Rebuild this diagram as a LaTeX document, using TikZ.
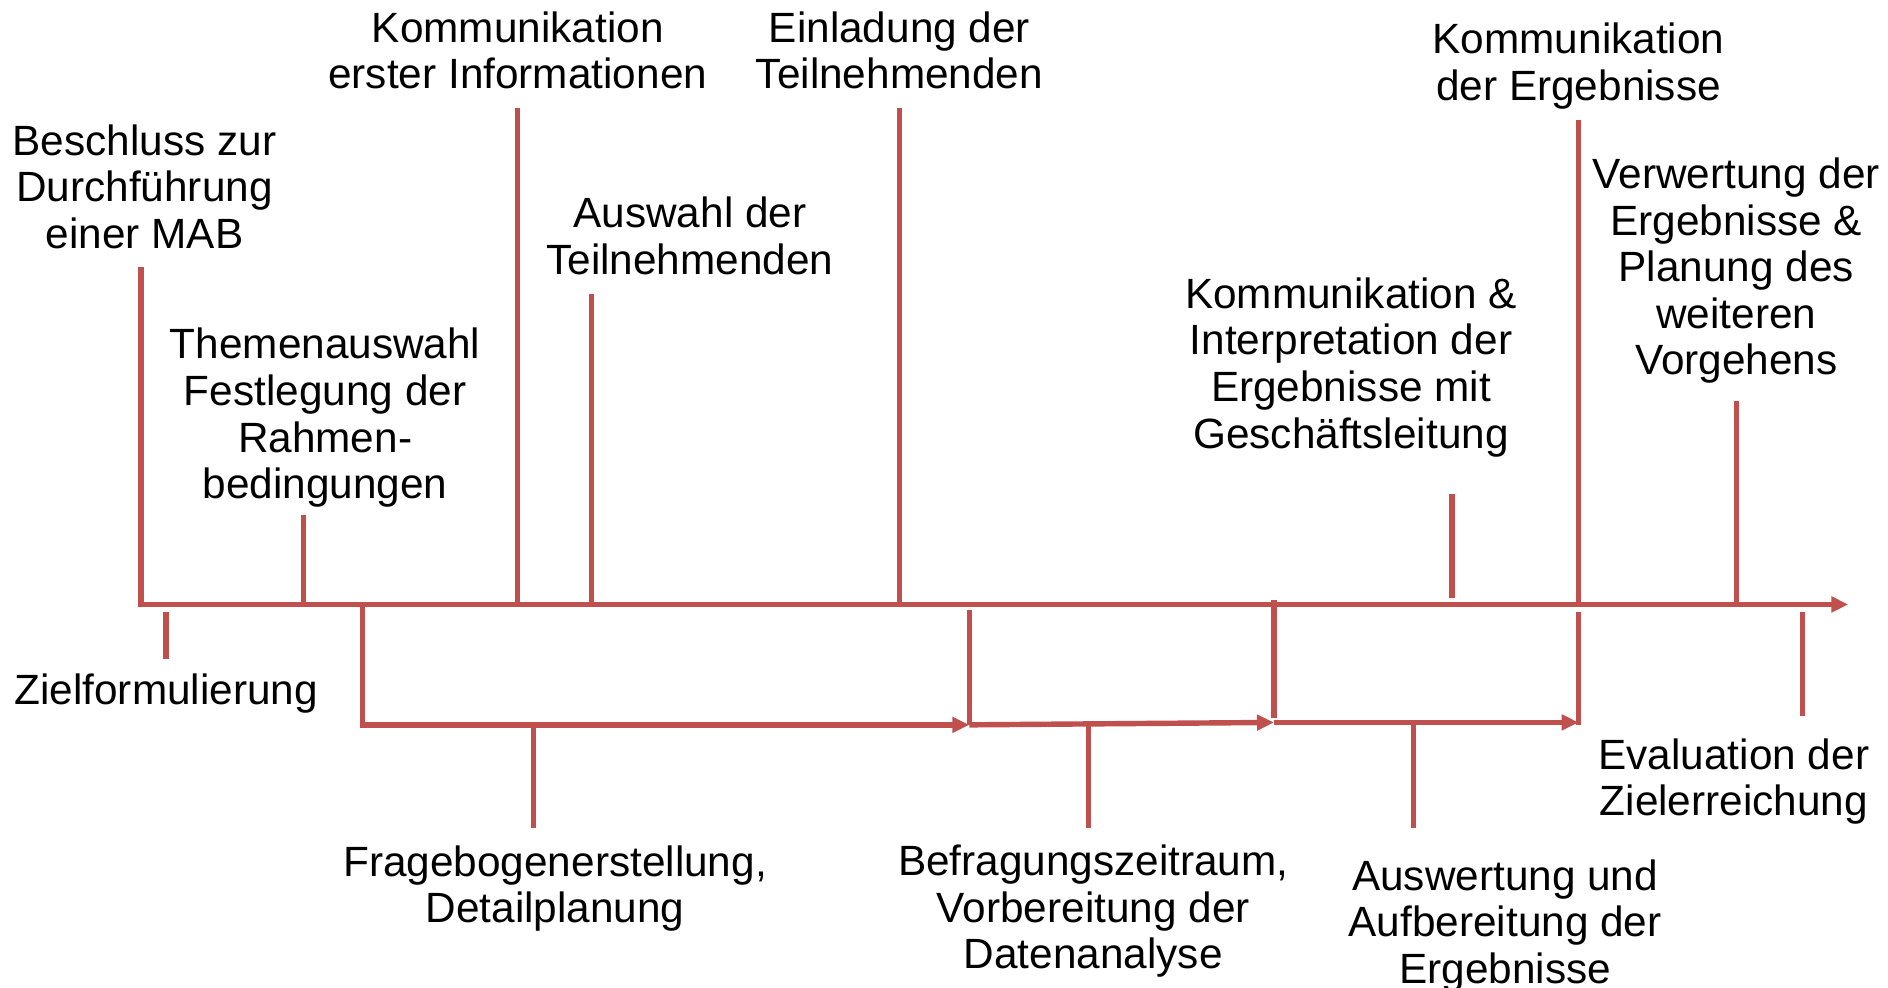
\documentclass[tikz,border=0pt]{standalone}
\usepackage{fontspec}
\setmainfont{Liberation Sans}
\usetikzlibrary{arrows.meta}

\definecolor{mabred}{RGB}{192,80,77}

\tikzset{
	tick/.style={draw=mabred,line width=3.2pt},
	flow/.style={tick,-{Triangle[length=10pt,width=9pt]}},
	lbl/.style={align=center,inner sep=0pt,font=\fontsize{25}{27.5}\selectfont}
}

\begin{document}
\begin{tikzpicture}[x=0.025cm,y=-0.025cm]
					\useasboundingbox (0,0) rectangle (1568,820);

					% Zeitachse
					\coordinate (t0) at (115,502);
					\coordinate (t1) at (1535,502);
					\draw[flow] (t0) -- (t1);

					% oben
					\node[lbl] (beschluss) at (120,155) {Beschluss zur\\Durchführung\\einer MAB};
					\node[lbl] (thema) at (270,347) {Themenauswahl\\Festlegung der\\Rahmen-\\bedingungen};
					\node[lbl] (komm1) at (430,42) {Kommunikation\\erster Informationen};
					\node[lbl] (auswahl) at (573,196) {Auswahl der\\Teilnehmenden};
					\node[lbl] (einladung) at (747,42) {Einladung der\\Teilnehmenden};
					\node[lbl] (interpret) at (1122,305) {Kommunikation \&\\Interpretation der\\Ergebnisse mit\\Geschäftsleitung};
					\node[lbl] (komm2) at (1311,55) {Kommunikation\\der Ergebnisse};
					\node[lbl] (verwertung) at (1442,225) {Verwertung der\\Ergebnisse \&\\Planung des\\weiteren\\Vorgehens};

					\draw[tick] (117,502) -- (117,222);
					\draw[tick] (252,502) -- (252,428);
					\draw[tick] (430,502) -- (430,90);
					\draw[tick] (491,502) -- (491,244);
					\draw[tick] (747,502) -- (747,90);
					\draw[tick] (1206,497) -- (1206,410);
					\draw[tick] (1311,502) -- (1311,100);
					\draw[tick] (1442,502) -- (1442,333);

					% unten
					\node[lbl] (ziel) at (138,576) {Zielformulierung};
					\node[lbl] (frage) at (461,738) {Fragebogenerstellung,\\Detailplanung};
					\node[lbl] (befragung) at (908,757) {Befragungszeitraum,\\Vorbereitung der\\Datenanalyse};
					\node[lbl] (auswertung) at (1250,769) {Auswertung und\\Aufbereitung der\\Ergebnisse};
					\node[lbl] (evaluation) at (1440,649) {Evaluation der\\Zielerreichung};

					\draw[tick] (138,508) -- (138,547);
					\draw[tick] (1497,508) -- (1497,595);

					\coordinate (p1) at (301,602);
					\coordinate (p2) at (805,602);
					\coordinate (p3) at (1058,600);
					\coordinate (p4) at (1311,600);
					\draw[flow] (301,502) -- (p1) -- (p2);
					\draw[tick] (805,507) -- (p2);
					\draw[flow] (p2) -- (p3);
					\draw[tick] (1058,498) -- (1058,596);
					\draw[flow] (p3) -- (p4);
					\draw[tick] (1311,508) -- (1311,602);

					\draw[tick] (443,602) -- (443,688);
					\draw[tick] (904,602) -- (904,688);
					\draw[tick] (1174,600) -- (1174,688);
				\end{tikzpicture}
\end{document}
